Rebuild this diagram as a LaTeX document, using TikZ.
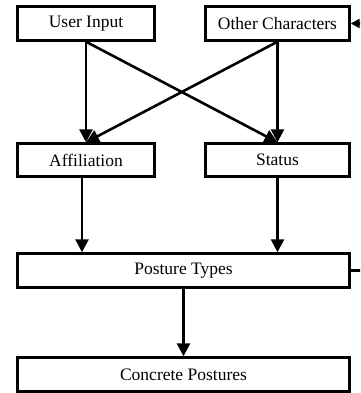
\documentclass[tikz,border=0pt]{standalone}
\usepackage{fontspec}
\setmainfont{Liberation Serif}
\usetikzlibrary{arrows.meta}
\begin{document}
\begin{tikzpicture}[x=1pt,y=-1pt,
  box/.style={draw,line width=2.4pt,rectangle,inner sep=0pt,font=\fontsize{17.5}{20}\selectfont},
  arr/.style={line width=2.6pt,-{Triangle[length=13pt,width=13pt]}}]
\useasboundingbox (0,0) rectangle (360,393);
\fill[white] (0,0) rectangle (360,393);
\clip (0,0) rectangle (360,393);
\node[box,minimum width=137pt,minimum height=34pt] (UI) at (86,23.5) {User Input};
\node[box,minimum width=144pt,minimum height=34pt] (OC) at (277.5,23.5) {Other Characters};
\node[box,minimum width=137pt,minimum height=33pt] (AF) at (86,160) {Affiliation};
\node[box,minimum width=144pt,minimum height=33pt] (ST) at (277.5,160) {Status};
\node[box,minimum width=332pt,minimum height=34pt] (PT) at (183.5,270.5) {Posture Types};
\node[box,minimum width=332pt,minimum height=34pt] (CP) at (183.5,374.5) {Concrete Postures};
\coordinate (loop) at (375,270.5);
\draw[arr] (UI.south) -- (AF.north);
\draw[arr] (UI.south) -- (ST.north);
\draw[arr] (OC.south) -- (ST.north);
\draw[arr] (OC.south) -- (AF.north);
\draw[arr] ([xshift=-4pt]AF.south) -- ([xshift=-4pt]AF.south |- PT.north);
\draw[arr] (ST.south) -- (ST.south |- PT.north);
\draw[arr] (PT.south) -- (CP.north);
\draw[line width=2.6pt,-{Triangle[length=9pt,width=9pt]}] (PT.east) -- (loop) |- (OC.east);
\end{tikzpicture}
\end{document}
